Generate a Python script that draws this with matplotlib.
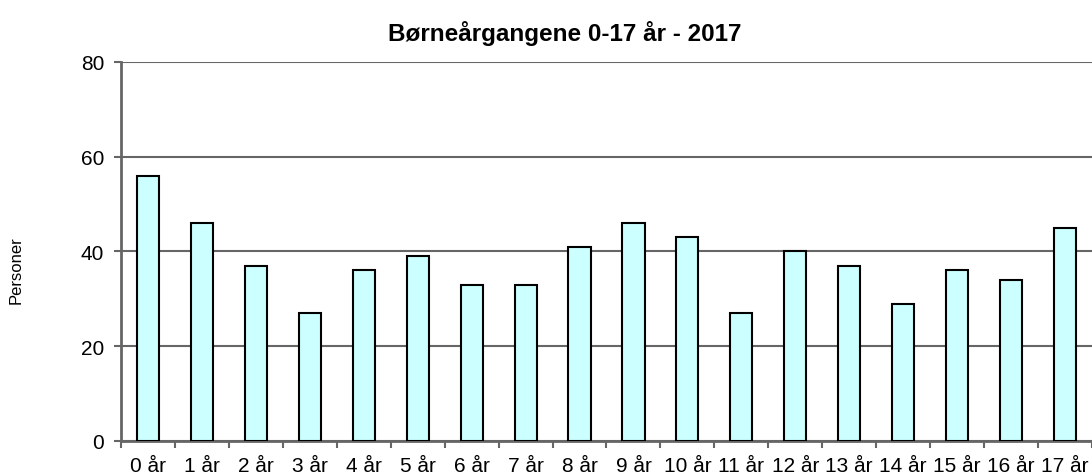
import numpy as np
import matplotlib.pyplot as plt

plt.rcParams['font.family'] = ['Liberation Sans', 'DejaVu Sans']

labels = ['0 år', '1 år', '2 år', '3 år', '4 år', '5 år', '6 år', '7 år', '8 år',
          '9 år', '10 år', '11 år', '12 år', '13 år', '14 år', '15 år', '16 år', '17 år']
personer = [56, 46, 37, 27, 36, 39, 33, 33, 41, 46, 43, 27, 40, 37, 29, 36, 34, 45]

grey = '#666666'
fig = plt.figure(figsize=(10.92, 4.77), dpi=100)
ax = fig.add_axes([0.1108, 0.0734, 0.8892, 0.7946])

x = np.arange(len(labels))
ax.bar(x, personer, width=0.41, color='#CCFFFF', edgecolor='black', linewidth=1.5, zorder=3)

ax.set_xlim(-0.5, len(labels) - 0.5)
ax.set_ylim(0, 80)
ax.set_yticks([0, 20, 40, 60, 80])
ax.yaxis.grid(True, color=grey, linewidth=1.5, zorder=0)

ax.set_xticks(x)
ax.set_xticklabels(labels)
ax.set_xticks(np.arange(len(labels) + 1) - 0.5, minor=True)
ax.tick_params(axis='x', which='major', length=0, labelsize=15, pad=11)
ax.tick_params(axis='x', which='minor', length=5, width=1.5, color=grey, direction='out')
ax.tick_params(axis='y', length=5, width=1.5, color=grey, direction='out', labelsize=15, pad=7)

for s in ['top', 'right']:
    ax.spines[s].set_visible(False)
for s in ['left', 'bottom']:
    ax.spines[s].set_color(grey)
    ax.spines[s].set_linewidth(2)

ax.set_ylabel('Personer', fontsize=12)
ax.yaxis.set_label_coords(-0.100, 0.454)
fig.suptitle('Børneårgangene 0-17 år - 2017', fontsize=17.5, fontweight='bold', x=0.517, y=0.957)

fig.savefig('out.png', dpi=100)
